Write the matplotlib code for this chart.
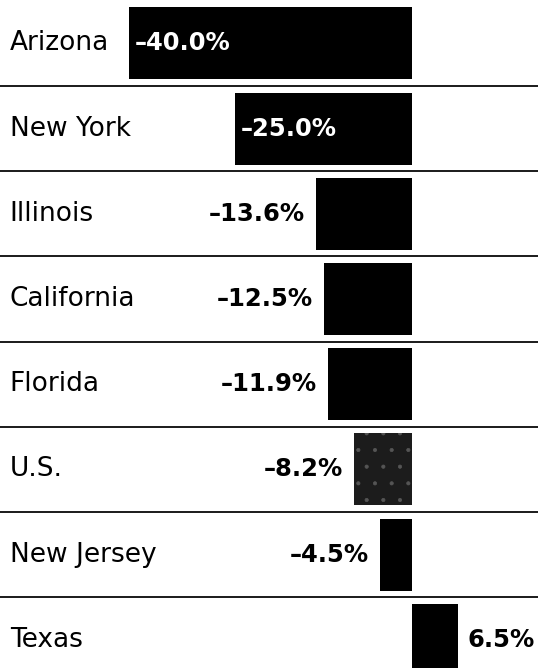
import matplotlib.pyplot as plt
import matplotlib.transforms as mtransforms

states = ['Arizona', 'New York', 'Illinois', 'California', 'Florida', 'U.S.', 'New Jersey', 'Texas']
change = [-40.0, -25.0, -13.6, -12.5, -11.9, -8.2, -4.5, 6.5]

plt.rcParams['font.family'] = ['DejaVu Sans']
plt.rcParams['hatch.linewidth'] = 0.5

fig = plt.figure(figsize=(5.38, 6.68), dpi=100)
ax = fig.add_axes([0, 0, 1, 1])

ypos = list(range(len(states)))
colors = ['#1c1c1c' if s == 'U.S.' else 'black' for s in states]
bars = ax.barh(ypos, change, height=0.845, color=colors, linewidth=0)
# the U.S. bar is printed with a grainy screen in the original
us = bars[states.index('U.S.')]
us.set_hatch('.')
us.set_edgecolor('#555555')

# thin rules between rows
for i in range(len(states) - 1):
    ax.axhline(i + 0.5, color='#1a1a1a', lw=1.4)

trans = mtransforms.blended_transform_factory(ax.transAxes, ax.transData)
for i, (name, v) in enumerate(zip(states, change)):
    ax.text(0.018, i, name, transform=trans, ha='left', va='center',
            fontsize=19, color='black')
    label = f'{abs(v):.1f}%'
    if v < 0:
        label = '\u2013' + label
    if v <= -20:
        # wide bars carry the label inside, in white
        ax.annotate(label, (v, i), xytext=(4, 0), textcoords='offset points',
                    ha='left', va='center', fontsize=17.5, fontweight='bold', color='white')
    elif v < 0:
        ax.annotate(label, (v, i), xytext=(-8, 0), textcoords='offset points',
                    ha='right', va='center', fontsize=17.5, fontweight='bold', color='black')
    else:
        ax.annotate(label, (v, i), xytext=(7, 0), textcoords='offset points',
                    ha='left', va='center', fontsize=17.5, fontweight='bold', color='black')

ax.set_xlim(-58.3, 17.8)
ax.set_ylim(7.33, -0.51)
ax.axis('off')

fig.savefig('out.png', dpi=100, facecolor='white')
